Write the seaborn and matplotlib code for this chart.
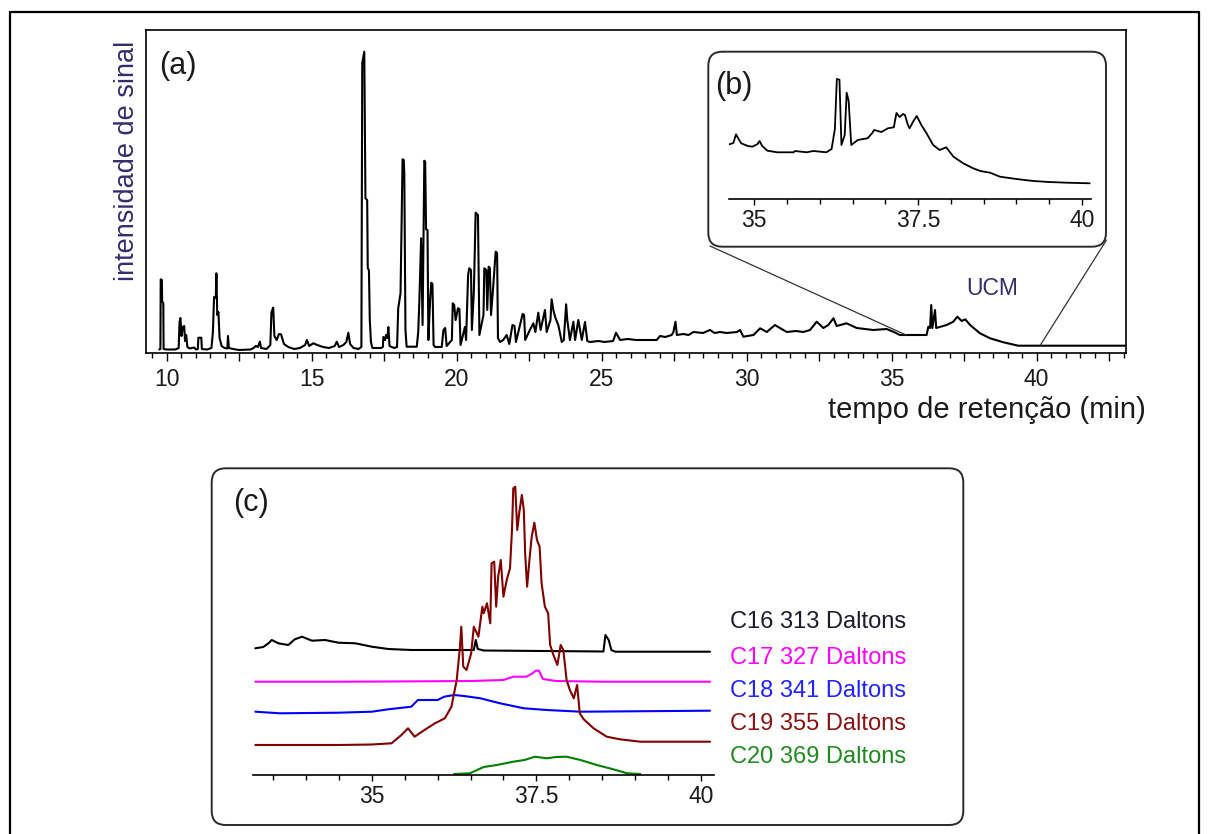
import matplotlib
matplotlib.use("Agg")
import matplotlib.pyplot as plt
import seaborn as sns
import pandas as pd
from matplotlib.patches import FancyBboxPatch, ConnectionPatch
from matplotlib.lines import Line2D
from matplotlib.ticker import MultipleLocator, FuncFormatter

# ---------------- data ----------------
# (a) full chromatogram: (retention time [min], signal intensity [a.u.])
main_trace = [
    (9.75, 0.5), (9.79, 1), (9.80, 70.7), (9.84, 70), (9.85, 48), (9.89, 47), (9.90, 1), (10.0, 0.5), (10.3, 0.5),
    (10.42, 2), (10.45, 28), (10.48, 32), (10.52, 14), (10.56, 23), (10.61, 24), (10.64, 9), (10.68, 15), (10.72, 3),
    (10.8, 1.5), (10.95, 2.5), (11.02, 0.5), (11.08, 1), (11.10, 12.3), (11.20, 12.3), (11.22, 1), (11.4, 0.5),
    (11.55, 2), (11.60, 18), (11.64, 53), (11.70, 52), (11.72, 76.7), (11.75, 35), (11.79, 38), (11.83, 12), (11.9, 4),
    (12.0, 2), (12.10, 1.5), (12.12, 14), (12.15, 2), (12.3, 1), (12.5, 0), (12.9, 0.5),
    (13.0, 2), (13.08, 4), (13.15, 3), (13.22, 8.3), (13.26, 2), (13.45, 1),
    (13.58, 5), (13.62, 38), (13.68, 42.3), (13.72, 14), (13.8, 10), (13.88, 16), (13.95, 15.7), (14.05, 6),
    (14.2, 3), (14.4, 1), (14.6, 2), (14.78, 5), (14.84, 10), (14.92, 4), (15.06, 6.7), (15.2, 5), (15.4, 3),
    (15.6, 2), (15.8, 4), (15.87, 8.3), (15.95, 3), (16.1, 5), (16.2, 8), (16.27, 17.3), (16.33, 6), (16.45, 2),
    (16.62, 1), (16.72, 3), (16.75, 287), (16.82, 298.3), (16.86, 151.7), (16.92, 150), (16.94, 81.7), (16.98, 80),
    (17.01, 30), (17.05, 8), (17.1, 2), (17.4, 2),
    (17.46, 3), (17.48, 13), (17.54, 10), (17.57, 15), (17.62, 12), (17.65, 23), (17.69, 4), (17.85, 2), (17.95, 3),
    (17.99, 41.7), (18.07, 56.7), (18.14, 190.7), (18.18, 190), (18.20, 176.7), (18.24, 20), (18.28, 3.3), (18.63, 3.3),
    (18.68, 18), (18.72, 50), (18.78, 111.7), (18.83, 25), (18.89, 189.3), (18.92, 188), (18.95, 120.7), (19.0, 120),
    (19.03, 10), (19.09, 50), (19.13, 67.3), (19.17, 66), (19.21, 5), (19.26, 3), (19.49, 3),
    (19.55, 20), (19.61, 22), (19.66, 4), (19.84, 10), (19.87, 46.7), (19.92, 45), (19.97, 30), (20.05, 41.7),
    (20.10, 41), (20.14, 5), (20.29, 23), (20.33, 10), (20.40, 75), (20.44, 81.7), (20.50, 80), (20.53, 20),
    (20.60, 60), (20.66, 137.3), (20.74, 135), (20.79, 15), (20.93, 35), (20.96, 81.7), (21.03, 80), (21.06, 40),
    (21.11, 83.3), (21.15, 82), (21.19, 35), (21.27, 65), (21.35, 98.3), (21.40, 97), (21.43, 12), (21.50, 8),
    (21.61, 10), (21.73, 15), (21.82, 6), (21.93, 25), (22.0, 24), (22.05, 8), (22.28, 36), (22.33, 35), (22.37, 10),
    (22.53, 20), (22.65, 26.7), (22.72, 18), (22.82, 37.3), (22.90, 20), (23.05, 40), (23.11, 18), (23.24, 30),
    (23.28, 50.7), (23.34, 40), (23.40, 33), (23.51, 25), (23.63, 8), (23.70, 10), (23.78, 45.7), (23.82, 30),
    (23.91, 10), (24.03, 28.3), (24.09, 10), (24.20, 30), (24.32, 10), (24.43, 28), (24.51, 9), (24.6, 8),
    (24.9, 9), (25.1, 8), (25.4, 9), (25.5, 17.3), (25.64, 10), (25.9, 11), (26.2, 10), (26.6, 10),
    (26.9, 10), (27.02, 14), (27.2, 13), (27.42, 15), (27.48, 18), (27.55, 28.3), (27.6, 15), (27.82, 16),
    (28.0, 15), (28.17, 18), (28.5, 17), (28.74, 20), (28.9, 17), (29.09, 18), (29.32, 17), (29.67, 18),
    (29.78, 20), (29.89, 13.3), (30.24, 15), (30.47, 21.7), (30.70, 18), (30.98, 25), (31.15, 22), (31.39, 18),
    (31.7, 19), (31.96, 18), (32.19, 20), (32.42, 28.3), (32.65, 22), (32.82, 25), (33.0, 31.7), (33.11, 24),
    (33.45, 26.7), (33.80, 22), (34.1, 21), (34.37, 20), (34.83, 21), (35.06, 18.3), (35.29, 15), (36.21, 15),
    (36.27, 23.3), (36.33, 22), (36.37, 45), (36.41, 22), (36.50, 40), (36.54, 22), (36.90, 25), (37.13, 28.3),
    (37.27, 33.3), (37.42, 29), (37.54, 30.7), (37.71, 25), (38.05, 16.7), (38.40, 11.7), (38.86, 7.7),
    (39.37, 4.3), (43.09, 4.3),
]

# (b) zoom on the UCM region: (retention time, intensity)
inset_trace = [
    (34.62, 54.7), (34.68, 56), (34.72, 64.7), (34.76, 60), (34.8, 55.7), (34.9, 53), (34.97, 52.3), (35.05, 55),
    (35.08, 58), (35.12, 53), (35.2, 48.3), (35.35, 46.7), (35.6, 46.7), (35.62, 48), (35.8, 46.7), (35.9, 48),
    (36.1, 46.7), (36.18, 50), (36.23, 70), (36.26, 120), (36.30, 119.3), (36.33, 54), (36.38, 64), (36.41, 106.3),
    (36.44, 98), (36.48, 54), (36.58, 59), (36.66, 60), (36.73, 60.7), (36.8, 66), (36.83, 69), (36.94, 67),
    (37.04, 70.7), (37.13, 71.7), (37.17, 86), (37.22, 82), (37.27, 85), (37.30, 84), (37.34, 75), (37.37, 70.7),
    (37.43, 78), (37.48, 83), (37.55, 74), (37.63, 65.7), (37.73, 54), (37.83, 49), (37.93, 51.7), (38.04, 42.3),
    (38.19, 35.7), (38.34, 30.7), (38.45, 28), (38.6, 26.3), (38.75, 22.3), (39.0, 20), (39.26, 18), (39.5, 17),
    (39.77, 16.3), (40.12, 15.7),
]

# (c) extracted ion chromatograms (stacked, already offset as drawn)
c16_trace = [
    (33.23, 126.7), (33.35, 128), (33.43, 131.7), (33.48, 135), (33.58, 131.7), (33.73, 130), (33.83, 135.7),
    (33.94, 138.3), (34.09, 134.3), (34.29, 135), (34.49, 132.3), (34.75, 131.7), (35.0, 128.3), (35.25, 126),
    (35.6, 125), (36.55, 125), (36.58, 135), (36.61, 126), (36.7, 124.5), (38.52, 123.5), (38.55, 140),
    (38.60, 135), (38.64, 125), (38.7, 123.3), (40.14, 123.3),
]
c17_trace = [
    (33.23, 93.3), (34.5, 93.3), (35.5, 93.6), (36.5, 94), (37.0, 95), (37.15, 98.3), (37.35, 98.3), (37.45, 102),
    (37.49, 104.3), (37.54, 104.3), (37.6, 96), (37.8, 94), (38.5, 93.3), (40.14, 93.3),
]
c18_trace = [
    (33.23, 63.3), (33.6, 61.7), (34.5, 62.3), (35.0, 63.3), (35.25, 65.7), (35.6, 68.3), (35.7, 75), (36.0, 75),
    (36.1, 78.3), (36.25, 80), (36.4, 79), (36.65, 76.7), (36.95, 71.7), (37.31, 66.7), (37.66, 65), (38.17, 63.3),
    (40.14, 64.3),
]
c19_trace = [
    (33.23, 30), (34.5, 30), (35.0, 30.5), (35.3, 31.7), (35.45, 40), (35.55, 46.7), (35.65, 38.3), (35.8, 45),
    (35.96, 51.7), (36.11, 56.7), (36.21, 68.3), (36.29, 95), (36.34, 128.3), (36.36, 148.3), (36.39, 108.3),
    (36.44, 105), (36.51, 121.7), (36.55, 148.3), (36.62, 138.3), (36.68, 168.3), (36.70, 161.7), (36.75, 171.7),
    (36.80, 151.7), (36.82, 211.7), (36.86, 213.3), (36.89, 168.3), (36.92, 198.3), (36.96, 215), (37.0, 178.3),
    (37.05, 195), (37.10, 206.7), (37.13, 245), (37.15, 286.7), (37.18, 288.3), (37.21, 245), (37.24, 261.7),
    (37.28, 280), (37.31, 265), (37.33, 221.7), (37.36, 188.3), (37.40, 218.3), (37.43, 238.3), (37.47, 252.3),
    (37.51, 235), (37.55, 228.3), (37.58, 191.7), (37.63, 168.3), (37.68, 161.7), (37.71, 130), (37.76, 120),
    (37.82, 110), (37.87, 130), (37.91, 125), (37.96, 95), (38.01, 85), (38.07, 76.7), (38.12, 90), (38.16, 61.7),
    (38.22, 55.7), (38.37, 46.7), (38.57, 38.3), (38.77, 35.7), (39.08, 33.3), (40.14, 33.3),
]
c20_trace = [
    (36.25, 1), (36.49, 1.7), (36.6, 5), (36.7, 8), (36.9, 10), (37.15, 13.3), (37.32, 15), (37.48, 18.3),
    (37.66, 16.7), (37.8, 18), (37.96, 18.3), (38.17, 15), (38.42, 10), (38.67, 5.7), (38.88, 1.7), (39.08, 1),
]

ion_labels = ["C16 313 Daltons", "C17 327 Daltons", "C18 341 Daltons", "C19 355 Daltons", "C20 369 Daltons"]
ion_line_colors = ["#000000", "#ff00ff", "#0000ff", "#800000", "#008000"]
ion_text_colors = ["#1c1c2a", "#ff00ff", "#2323ff", "#8b1212", "#1f8a1f"]
ion_traces = [c16_trace, c17_trace, c18_trace, c19_trace, c20_trace]

# ---------------- styling ----------------
sns.set_style("white")
plt.rcParams['font.family'] = ['Liberation Sans', 'DejaVu Sans']
plt.rcParams['axes.edgecolor'] = 'black'

W, H = 1212, 834
fig = plt.figure(figsize=(W / 100, H / 100), dpi=100)


def fx(px):
    return px / W


def fy(py):
    return 1 - py / H


def to_df(trace):
    return pd.DataFrame(trace, columns=["t", "s"])


def draw(ax, trace, color, lw=1.2):
    sns.lineplot(data=to_df(trace), x="t", y="s", ax=ax, color=color, linewidth=lw,
                 sort=False, estimator=None, errorbar=None)
    ax.set_xlabel("")
    ax.set_ylabel("")


tick_color = "#1a1a1a"
navy = "#332d6e"
TICK_FS = 16.5

# ---- (a) main chromatogram ----
ax = fig.add_axes([fx(146), fy(352.7), fx(1126) - fx(146), (352.7 - 30) / H])
draw(ax, main_trace, "black", 1.5)
ax.set_xlim(9.293, 43.086)
ax.set_ylim(-2.7, 320)
ax.set_yticks([])
for sp in ax.spines.values():
    sp.set_visible(True)
    sp.set_linewidth(1.2)
    sp.set_color("black")
ax.xaxis.set_major_locator(MultipleLocator(2.5))
ax.xaxis.set_minor_locator(MultipleLocator(0.5))
ax.xaxis.set_major_formatter(FuncFormatter(lambda v, p: f"{v:.0f}" if abs(v / 5 - round(v / 5)) < 1e-6 else ""))
ax.tick_params(axis="x", which="major", direction="out", length=6, width=1, labelsize=TICK_FS,
               pad=5, colors="black", labelcolor=tick_color, bottom=True)
ax.tick_params(axis="x", which="minor", direction="out", length=3.5, width=1, colors="black", bottom=True)

# ---- (b) inset ----
axb = fig.add_axes([fx(729.3), fy(199), (1090.7 - 729.3) / W, 129 / H])
axb.set_facecolor("none")
draw(axb, inset_trace, "black", 1.3)
axb.set_xlim(34.618, 40.136)
axb.set_ylim(0, 129)
axb.set_yticks([])
for k in ["left", "top", "right"]:
    axb.spines[k].set_visible(False)
axb.spines["bottom"].set_linewidth(1.2)
axb.xaxis.set_major_locator(MultipleLocator(2.5))
axb.xaxis.set_minor_locator(MultipleLocator(0.5))
axb.xaxis.set_major_formatter(FuncFormatter(lambda v, p: f"{v:g}"))
axb.tick_params(axis="x", which="major", direction="out", length=4, width=1, labelsize=TICK_FS,
                pad=3, colors="black", labelcolor=tick_color, bottom=True)
axb.tick_params(axis="x", which="minor", direction="out", length=3.5, width=1, colors="black", bottom=True)

# ---- (c) ion chromatograms ----
axc = fig.add_axes([fx(252.7), fy(775), (714 - 252.7) / W, 295 / H])
axc.set_facecolor("none")
for tr, col in zip(ion_traces, ion_line_colors):
    draw(axc, tr, col, 1.5)
axc.set_xlim(33.19, 40.2)
axc.set_ylim(0, 295)
axc.set_yticks([])
for k in ["left", "top", "right"]:
    axc.spines[k].set_visible(False)
axc.spines["bottom"].set_linewidth(1.2)
axc.xaxis.set_major_locator(MultipleLocator(2.5))
axc.xaxis.set_minor_locator(MultipleLocator(0.5))
axc.xaxis.set_major_formatter(FuncFormatter(lambda v, p: f"{v:g}"))
axc.tick_params(axis="x", which="major", direction="out", length=4, width=1, labelsize=TICK_FS,
                pad=3, colors="black", labelcolor=tick_color, bottom=True)
axc.tick_params(axis="x", which="minor", direction="out", length=3.5, width=1, colors="black", bottom=True)

# ---- boxes, connectors, frame ----
box_b = FancyBboxPatch((7.083, (H - 246.7) / 100), (1106 - 708.3) / 100, (246.7 - 51.7) / 100,
                       boxstyle="round,pad=0,rounding_size=0.14", transform=fig.dpi_scale_trans,
                       fc="none", ec="#2a2a2a", lw=1.4)
fig.add_artist(box_b)
box_c = FancyBboxPatch((2.117, (H - 825) / 100), (963.3 - 211.7) / 100, (825 - 468.3) / 100,
                       boxstyle="round,pad=0,rounding_size=0.14", transform=fig.dpi_scale_trans,
                       fc="none", ec="#2a2a2a", lw=1.4)
fig.add_artist(box_c)

con1 = ConnectionPatch(xyA=(35.5, 15), coordsA=ax.transData, xyB=(fx(710), fy(246)),
                       coordsB=fig.transFigure, color="#333333", lw=0.9)
con2 = ConnectionPatch(xyA=(40.12, 4.3), coordsA=ax.transData, xyB=(fx(1106.5), fy(240)),
                       coordsB=fig.transFigure, color="#333333", lw=0.9)
fig.add_artist(con1)
fig.add_artist(con2)

frame_kw = dict(transform=fig.transFigure, color="black", lw=1.6)
fig.add_artist(Line2D([fx(10), fx(10)], [fy(12), -0.01], **frame_kw))
fig.add_artist(Line2D([fx(10), fx(1199)], [fy(12), fy(12)], **frame_kw))
fig.add_artist(Line2D([fx(1199), fx(1199)], [fy(12), -0.01], **frame_kw))

# ---- texts ----
fig.text(fx(159), fy(66), "(a)", fontsize=22, ha="left", va="center", color=tick_color)
fig.text(fx(715), fy(86), "(b)", fontsize=22, ha="left", va="center", color=tick_color)
fig.text(fx(233), fy(503), "(c)", fontsize=22, ha="left", va="center", color=tick_color)
fig.text(fx(992), fy(288), "UCM", fontsize=16.5, ha="center", va="center", color=navy)
fig.text(fx(127), fy(161), "intensidade de sinal", rotation=90, fontsize=19.5,
         ha="center", va="center", color=navy)
fig.text(fx(1146), fy(410), "tempo de retenção (min)", fontsize=21, ha="right", va="center",
         color=tick_color)

label_y = [622, 658, 691, 724, 757]
for lab, col, yy in zip(ion_labels, ion_text_colors, label_y):
    fig.text(fx(730), fy(yy), lab, fontsize=17, ha="left", va="center", color=col)

fig.savefig("out.png", dpi=100)
